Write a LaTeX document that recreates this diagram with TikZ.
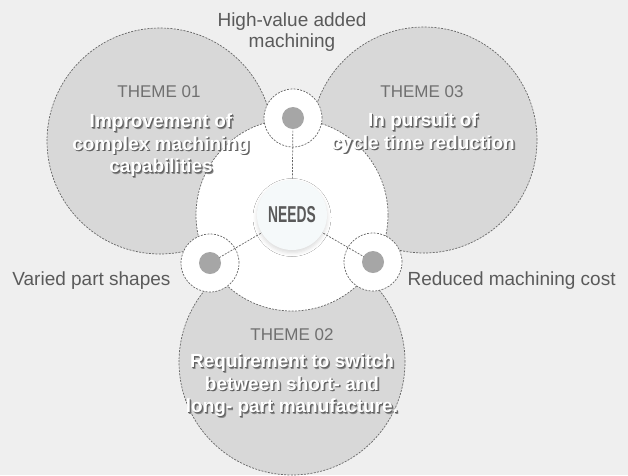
\documentclass[tikz,border=0pt]{standalone}
\usepackage{fontspec}
\setmainfont{Liberation Sans}
\usepackage{graphicx}
\usetikzlibrary{shadows.blur}

\definecolor{bggray}{HTML}{EFEFEF}
\definecolor{themegray}{HTML}{D8D8D8}
\definecolor{dashgray}{HTML}{666666}
\definecolor{dotgray}{HTML}{A6A6A6}
\definecolor{labelgray}{HTML}{5A5A5A}
\definecolor{headgray}{HTML}{707070}
\definecolor{needsfill}{HTML}{F5F9FA}
\definecolor{shadowgray}{HTML}{5E5E5E}
\definecolor{softshadow}{HTML}{8A8A8A}

% white text with a dark drop shadow
\newcommand{\embossed}[1]{\leavevmode
    \rlap{\kern1.6pt\raisebox{-1.6pt}{\textcolor{softshadow}{#1}}}%
    \rlap{\kern1.0pt\raisebox{-1.0pt}{\textcolor{shadowgray}{#1}}}#1}

\begin{document}
\begin{tikzpicture}[
    x=1pt, y=-1pt,
    dashring/.style={draw=dashgray, line width=0.7pt, dash pattern=on 2pt off 1.3pt},
    theme/.style={circle, dashring, fill=themegray, minimum size=226pt, inner sep=0pt},
    hub/.style={circle, dashring, fill=white, minimum size=192pt, inner sep=0pt},
    ring/.style={circle, dashring, fill=white, minimum size=58pt, inner sep=0pt},
    dot/.style={circle, fill=dotgray, minimum size=22pt, inner sep=0pt},
    link/.style={dashring},
    needsbox/.style={circle, fill=needsfill, minimum size=70pt, inner sep=0pt,
        blur shadow={shadow xshift=0pt, shadow yshift=-2.5pt, shadow blur radius=4pt, shadow opacity=15},
        text=labelgray, font=\bfseries\fontsize{23}{23}\selectfont},
    caption/.style={text=labelgray, align=center, font=\fontsize{19}{21}\selectfont},
    heading/.style={text=headgray, font=\fontsize{17}{17}\selectfont},
    claim/.style={text=white, align=center, font=\bfseries\fontsize{19}{22.5}\selectfont}
]
    \useasboundingbox (0,0) rectangle (628,475);
    \fill[bggray] (0,0) rectangle (628,475);

    % the three themes
    \node[theme] (theme01) at (160,141) {};
    \node[theme] (theme03) at (424,140) {};
    \node[theme] (theme02) at (292,362) {};

    \node[hub] (hub) at (292,215) {};

    \node[ring] (ringtop) at (293,118) {};
    \node[ring] (ringleft) at (210,263) {};
    \node[ring] (ringright) at (373,262) {};

    \draw[link] (hub.center) -- (ringtop.center);
    \draw[link] (hub.center) -- (ringleft.center);
    \draw[link] (hub.center) -- (ringright.center);

    \node[dot] (dottop) at (ringtop.center) {};
    \node[dot] (dotleft) at (ringleft.center) {};
    \node[dot] (dotright) at (ringright.center) {};

    \node[needsbox] (needs) at (hub.center) {\scalebox{0.6}[1]{NEEDS}};

    % needs
    \node[caption] (needtop) at (292,32) {High-value added\\machining};
    \node[caption, anchor=east] (needleft) at (174,281) {Varied part shapes};
    \node[caption, anchor=west] (needright) at (404,281) {Reduced machining cost};

    % theme texts
    \node[heading] (head01) at (159,92) {THEME 01};
    \node[heading] (head03) at (422,92) {THEME 03};
    \node[heading] (head02) at (292,335) {THEME 02};

    \node[claim] (claim01) at (161,146) {\embossed{Improvement of}\\\embossed{complex machining}\\\embossed{capabilities}};
    \node[claim] (claim03) at (423,134) {\embossed{In pursuit of}\\\embossed{cycle time reduction}};
    \node[claim] (claim02) at (292,386) {\embossed{Requirement to switch}\\\embossed{between short- and}\\\embossed{long- part manufacture.}};
\end{tikzpicture}
\end{document}
